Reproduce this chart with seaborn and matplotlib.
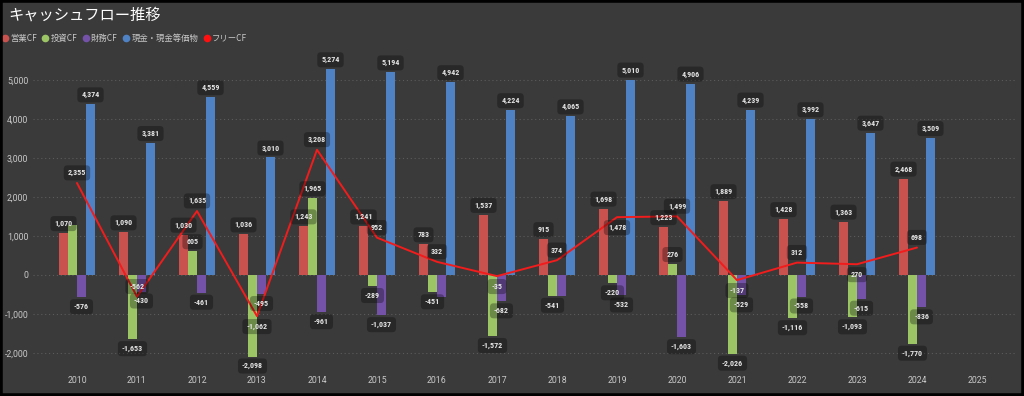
import numpy as np
import pandas as pd
import matplotlib
matplotlib.use("Agg")
import matplotlib.pyplot as plt
from matplotlib.lines import Line2D
from matplotlib.patches import Rectangle
import seaborn as sns

# ---------------- data ----------------
years = [str(y) for y in range(2010, 2026)]          # 2025 has no data
data_years = [str(y) for y in range(2010, 2025)]
operating_cf = [1070, 1090, 1030, 1036, 1243, 1241, 783, 1537, 915, 1698, 1223, 1889, 1428, 1363, 2468]
investing_cf = [1285, -1653, 605, -2098, 1965, -289, -451, -1572, -541, -220, 276, -2026, -1116, -1093, -1770]
financing_cf = [-576, -430, -461, -495, -961, -1037, -570, -682, -533, -532, -1603, -529, -558, -615, -836]
cash_balance = [4374, 3381, 4559, 3010, 5274, 5194, 4942, 4224, 4065, 5010, 4906, 4239, 3992, 3647, 3509]
free_cf = [2355, -562, 1635, -1062, 3208, 952, 332, -35, 374, 1478, 1499, -137, 312, 270, 698]

series_names = ["営業CF", "投資CF", "財務CF", "現金・現金等価物"]
line_name = "フリーCF"
y_ticks = [-2000, -1000, 0, 1000, 2000, 3000, 4000, 5000]
title = "キャッシュフロー推移"
# labels the reference does not display (overlapped)
hidden_labels = {("投資CF", "2010"), ("財務CF", "2016"), ("財務CF", "2018")}
# free-CF labels that the reference places below the line point
free_label_below = {"2013", "2017", "2019", "2021", "2023"}

colors = {"営業CF": "#c9514e", "投資CF": "#9cc666", "財務CF": "#7352a8",
          "現金・現金等価物": "#4f82c4"}
line_color = "#f21c1c"

# ---------------- frame ----------------
rows = []
for name, vals in zip(series_names, [operating_cf, investing_cf, financing_cf, cash_balance]):
    for y, v in zip(data_years, vals):
        rows.append({"year": y, "series": name, "value": v})
df = pd.DataFrame(rows)
df_line = pd.DataFrame({"year": data_years, "value": free_cf})

# ---------------- style ----------------
sns.set_theme(style="dark")
plt.rcParams["font.family"] = ["Roboto", "Noto Sans CJK JP", "DejaVu Sans"]
BG = "#3a3a3a"
TXT = "#c8c8c8"

fig = plt.figure(figsize=(10.24, 3.96), dpi=100, facecolor=BG)
ax = fig.add_axes([33 / 1024, (396 - 370) / 396, (1017 - 33) / 1024, (370 - 55) / 396])
ax.set_facecolor(BG)

sns.barplot(data=df, x="year", y="value", hue="series", order=years,
            hue_order=series_names, palette=colors, width=0.6, gap=0.1,
            saturation=1, legend=False, errorbar=None, ax=ax, zorder=2,
            linewidth=0, edgecolor="none")

sns.pointplot(data=df_line, x="year", y="value", order=years, color=line_color,
              marker="", linewidth=1.4, errorbar=None, ax=ax)
for ln in ax.lines:
    ln.set_zorder(3)

ax.set_xlim(-0.733, 15.667)
ax.set_ylim(-2444, 5640)
ax.set_yticks(y_ticks)
ax.set_yticklabels([f"{v:,}" for v in y_ticks])
ax.set_xlabel("")
ax.set_ylabel("")
ax.tick_params(axis="both", length=0, colors=TXT, labelsize=6.3)
ax.tick_params(axis="y", pad=3.5)
ax.tick_params(axis="x", pad=4)
for s in ax.spines.values():
    s.set_visible(False)
ax.grid(False)
for v in y_ticks:
    ax.axhline(v, color="#5c5c5c", lw=0.8, ls=(0, (1, 2.5)), zorder=0)

label_font = ["Roboto Condensed", "Liberation Sans Narrow", "Roboto", "DejaVu Sans"]
box = dict(boxstyle="round,pad=0.5,rounding_size=0.45", fc="black", ec="none", alpha=0.3)

# bar labels
for name, cont in zip(series_names, ax.containers):
    labs = []
    for y, v in zip(data_years, df[df.series == name]["value"]):
        labs.append("" if (name, y) in hidden_labels else f"{v:,}")
    ax.bar_label(cont, labels=labs, padding=4.3, fontsize=5.8, color="#e6e6e6",
                 fontweight="bold", family=label_font, bbox=box, zorder=5)

# free CF labels
for i, (y, v) in enumerate(zip(data_years, free_cf)):
    dy = -7.5 if y in free_label_below else 7.3
    ax.annotate(f"{v:,}", xy=(i, v), xytext=(0, dy), textcoords="offset points",
                ha="center", va="center", fontsize=5.8, color="#e6e6e6",
                fontweight="bold", family=label_font, bbox=box, zorder=6)

# title & legend
fig.text(8 / 1024, 1 - 15 / 396, title, color="white", fontsize=11,
         ha="left", va="center", family=["Noto Sans CJK JP", "DejaVu Sans"])
handles = [Line2D([], [], ls="", marker="o", ms=5.5, mfc=colors[n], mec="none", label=n)
           for n in series_names]
handles.append(Line2D([], [], ls="", marker="o", ms=5.5, mfc="#ff1010", mec="none", label=line_name))
leg = fig.legend(handles=handles, loc="center left", bbox_to_anchor=(2 / 1024, 1 - 38 / 396),
                 ncol=5, frameon=False, handlelength=0.6, handletextpad=0.35,
                 columnspacing=0.7, borderpad=0, borderaxespad=0,
                 prop={"family": ["Noto Sans CJK JP", "DejaVu Sans"], "size": 6})
for t in leg.get_texts():
    t.set_color(TXT)

# black frame
fig.patches.append(Rectangle((0, 0), 1, 1, transform=fig.transFigure, fill=False,
                             ec="black", lw=4, zorder=10))

fig.savefig("out.png", dpi=100, facecolor=BG)
